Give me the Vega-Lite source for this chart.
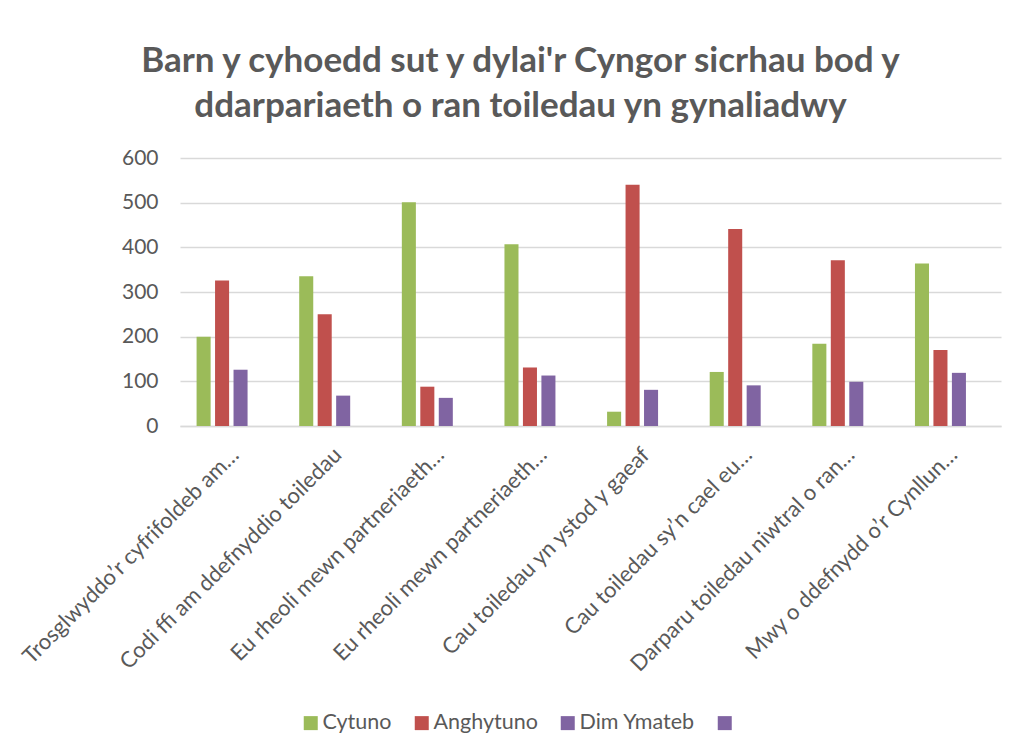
{
  "$schema": "https://vega.github.io/schema/vega-lite/v6.json",
  "autosize": {"type": "none"},
  "width": 821,
  "height": 268,
  "padding": {"left": 180, "top": 158, "right": 15, "bottom": 328},
  "background": "#ffffff",
  "title": {
    "text": ["Barn y cyhoedd sut y dylai'r Cyngor sicrhau bod y", "ddarpariaeth o ran toiledau yn gynaliadwy"],
    "anchor": "middle",
    "frame": "group",
    "dx": -70,
    "offset": 23,
    "font": "Lato",
    "fontSize": 35,
    "fontWeight": "bold",
    "color": "#595959",
    "lineHeight": 45
  },
  "data": {
    "values": [
      {"cat": "Trosglwyddo’r cyfrifoldeb am…", "series": "Cytuno", "value": 200},
      {"cat": "Trosglwyddo’r cyfrifoldeb am…", "series": "Anghytuno", "value": 326},
      {"cat": "Trosglwyddo’r cyfrifoldeb am…", "series": "Dim Ymateb", "value": 126},
      {"cat": "Codi ffi am ddefnyddio toiledau", "series": "Cytuno", "value": 335},
      {"cat": "Codi ffi am ddefnyddio toiledau", "series": "Anghytuno", "value": 250},
      {"cat": "Codi ffi am ddefnyddio toiledau", "series": "Dim Ymateb", "value": 68},
      {"cat": "Eu rheoli mewn partneriaeth…", "series": "Cytuno", "value": 501},
      {"cat": "Eu rheoli mewn partneriaeth…", "series": "Anghytuno", "value": 88},
      {"cat": "Eu rheoli mewn partneriaeth…", "series": "Dim Ymateb", "value": 63},
      {"cat": "Eu rheoli mewn partneriaeth…\u200b", "series": "Cytuno", "value": 407},
      {"cat": "Eu rheoli mewn partneriaeth…\u200b", "series": "Anghytuno", "value": 131},
      {"cat": "Eu rheoli mewn partneriaeth…\u200b", "series": "Dim Ymateb", "value": 113},
      {"cat": "Cau toiledau yn ystod y gaeaf", "series": "Cytuno", "value": 32},
      {"cat": "Cau toiledau yn ystod y gaeaf", "series": "Anghytuno", "value": 540},
      {"cat": "Cau toiledau yn ystod y gaeaf", "series": "Dim Ymateb", "value": 81},
      {"cat": "Cau toiledau sy’n cael eu…", "series": "Cytuno", "value": 121},
      {"cat": "Cau toiledau sy’n cael eu…", "series": "Anghytuno", "value": 441},
      {"cat": "Cau toiledau sy’n cael eu…", "series": "Dim Ymateb", "value": 91},
      {"cat": "Darparu toiledau niwtral o ran…", "series": "Cytuno", "value": 184},
      {"cat": "Darparu toiledau niwtral o ran…", "series": "Anghytuno", "value": 371},
      {"cat": "Darparu toiledau niwtral o ran…", "series": "Dim Ymateb", "value": 99},
      {"cat": "Mwy o ddefnydd o’r Cynllun…", "series": "Cytuno", "value": 364},
      {"cat": "Mwy o ddefnydd o’r Cynllun…", "series": "Anghytuno", "value": 170},
      {"cat": "Mwy o ddefnydd o’r Cynllun…", "series": "Dim Ymateb", "value": 119}
    ]
  },
  "mark": {"type": "bar"},
  "encoding": {
    "x": {
      "field": "cat",
      "type": "nominal",
      "sort": null,
      "scale": {"paddingInner": 0.28, "paddingOuter": 0.14},
      "axis": {
        "title": null,
        "labelAngle": -45,
        "labelAlign": "right",
        "labelBaseline": "middle",
        "labelFont": "Lato",
        "labelFontSize": 22,
        "labelColor": "#595959",
        "labelPadding": 25,
        "labelOffset": 4,
        "labelLimit": 0,
        "ticks": false,
        "domainColor": "#D9D9D9",
        "domainWidth": 1.5,
        "grid": false
      }
    },
    "xOffset": {
      "field": "series",
      "type": "nominal",
      "scale": {"domain": ["Cytuno", "Anghytuno", "Dim Ymateb", ""], "paddingInner": 0.24, "paddingOuter": 0.12}
    },
    "y": {
      "field": "value",
      "type": "quantitative",
      "scale": {"domain": [0, 600]},
      "axis": {
        "title": null,
        "values": [0, 100, 200, 300, 400, 500, 600],
        "labelFont": "Lato",
        "labelFontSize": 21,
        "labelColor": "#595959",
        "labelPadding": 22,
        "ticks": false,
        "domain": false,
        "gridColor": "#D9D9D9",
        "gridWidth": 1.5
      }
    },
    "color": {
      "field": "series",
      "type": "nominal",
      "scale": {"domain": ["Cytuno", "Anghytuno", "Dim Ymateb", ""], "range": ["#9BBB59", "#C0504D", "#8064A2", "#8064A2"]},
      "legend": {
        "title": null,
        "orient": "none",
        "direction": "horizontal",
        "legendX": 120,
        "legendY": 554,
        "symbolType": "square",
        "symbolSize": 196,
        "symbolStrokeWidth": 0,
        "labelFont": "Lato",
        "labelFontSize": 21.5,
        "labelColor": "#595959",
        "labelOffset": 1,
        "columnPadding": 19,
        "labelLimit": 0
      }
    }
  },
  "config": {
    "view": {"stroke": null}
  }
}
